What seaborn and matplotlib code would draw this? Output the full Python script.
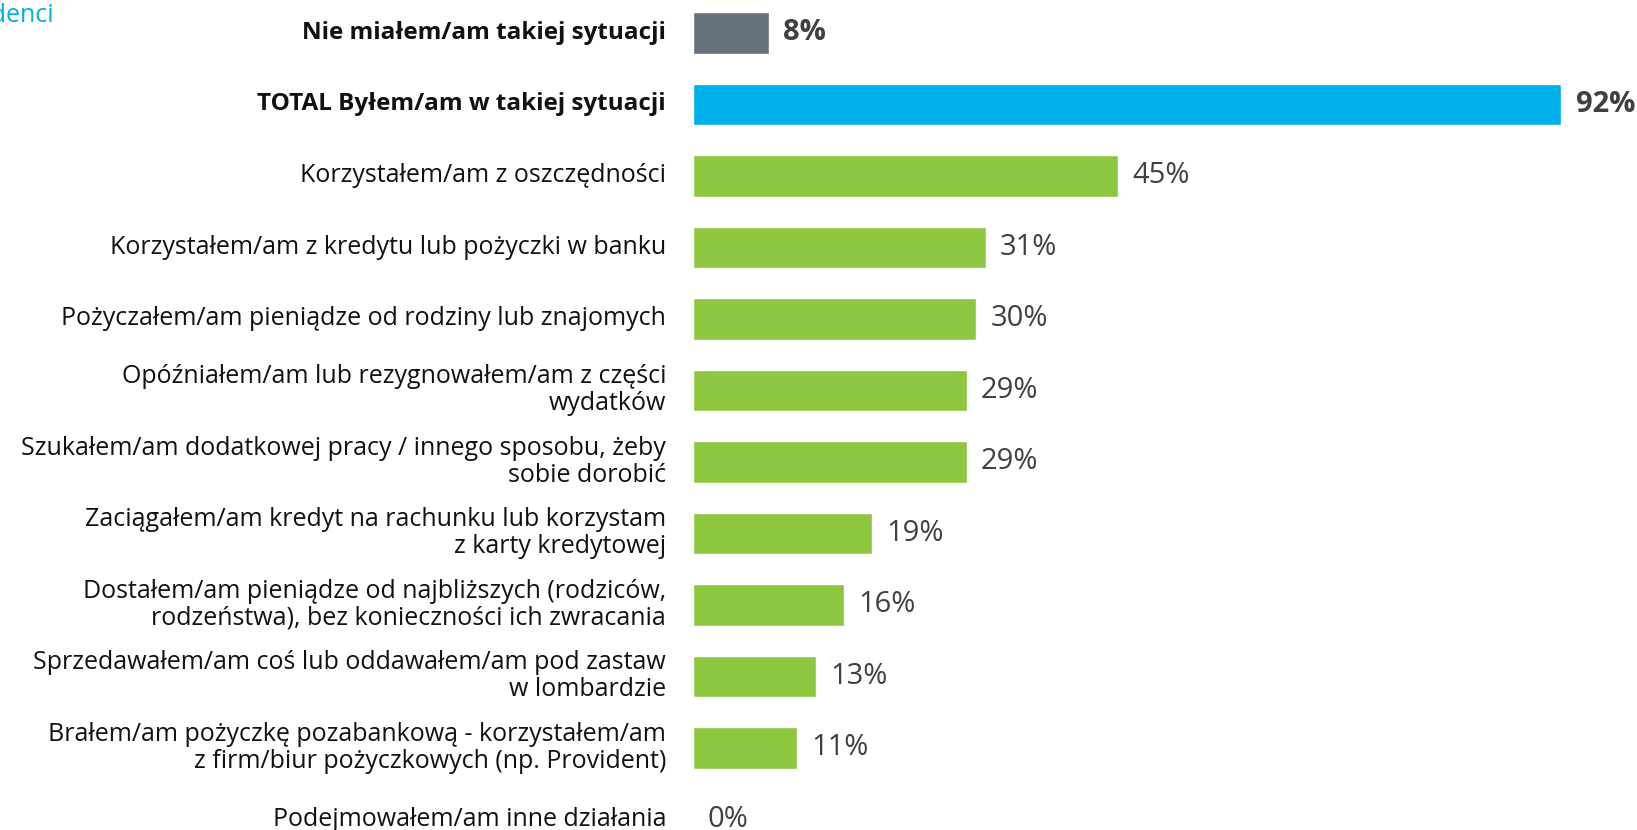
import matplotlib

matplotlib.use("Agg")
import matplotlib.pyplot as plt
import pandas as pd
import seaborn as sns

sns.set_theme(style="white")
plt.rcParams["font.family"] = ["Open Sans", "DejaVu Sans"]

labels = [
    "Nie miałem/am takiej sytuacji",
    "TOTAL Byłem/am w takiej sytuacji",
    "Korzystałem/am z oszczędności",
    "Korzystałem/am z kredytu lub pożyczki w banku",
    "Pożyczałem/am pieniądze od rodziny lub znajomych",
    "Opóźniałem/am lub rezygnowałem/am z części\nwydatków",
    "Szukałem/am dodatkowej pracy / innego sposobu, żeby\nsobie dorobić",
    "Zaciągałem/am kredyt na rachunku lub korzystam\nz karty kredytowej",
    "Dostałem/am pieniądze od najbliższych (rodziców,\nrodzeństwa), bez konieczności ich zwracania",
    "Sprzedawałem/am coś lub oddawałem/am pod zastaw\nw lombardzie",
    "Brałem/am pożyczkę pozabankową - korzystałem/am\nz firm/biur pożyczkowych (np. Provident)",
    "Podejmowałem/am inne działania",
]
values = [8, 92, 45, 31, 30, 29, 29, 19, 16, 13, 11, 0]
groups = ["none", "total"] + ["detail"] * 10
palette = {"none": "#66717d", "total": "#00b0ea", "detail": "#8dc63f"}

df = pd.DataFrame({"label": labels, "value": values, "group": groups})

W, H = 1637, 830
fig = plt.figure(figsize=(W / 100, H / 100), dpi=100)
ax = fig.add_axes([693 / W, 0, 944 / W, 1])

sns.barplot(data=df, y="label", x="value", hue="group", palette=palette,
            dodge=False, legend=False, width=0.58, saturation=1, ax=ax)

ax.set_xlim(0, 100)
ax.set_ylim(11.15, -0.46)
ax.set_xlabel("")
ax.set_ylabel("")
ax.set_xticks([])
ax.set_yticks([])
sns.despine(ax=ax, left=True, bottom=True)

for i, (lab, v) in enumerate(zip(labels, values)):
    bold = i < 2
    ax.text(-2.85, i, lab, ha="right", va="center",
            fontsize=17.5 if bold else 18,
            color="#111111", linespacing=1.1,
            fontweight="bold" if bold else "normal")
    ax.text(v + 1.5, i, f"{v}%", ha="left", va="center", fontsize=21,
            color="#404040", fontweight="bold" if bold else "normal")

fig.text(54 / W, 1 - 15 / H, "Respondenci", ha="right", va="center",
         fontsize=18, color="#00b0ea")

fig.savefig("out.png", dpi=100)
